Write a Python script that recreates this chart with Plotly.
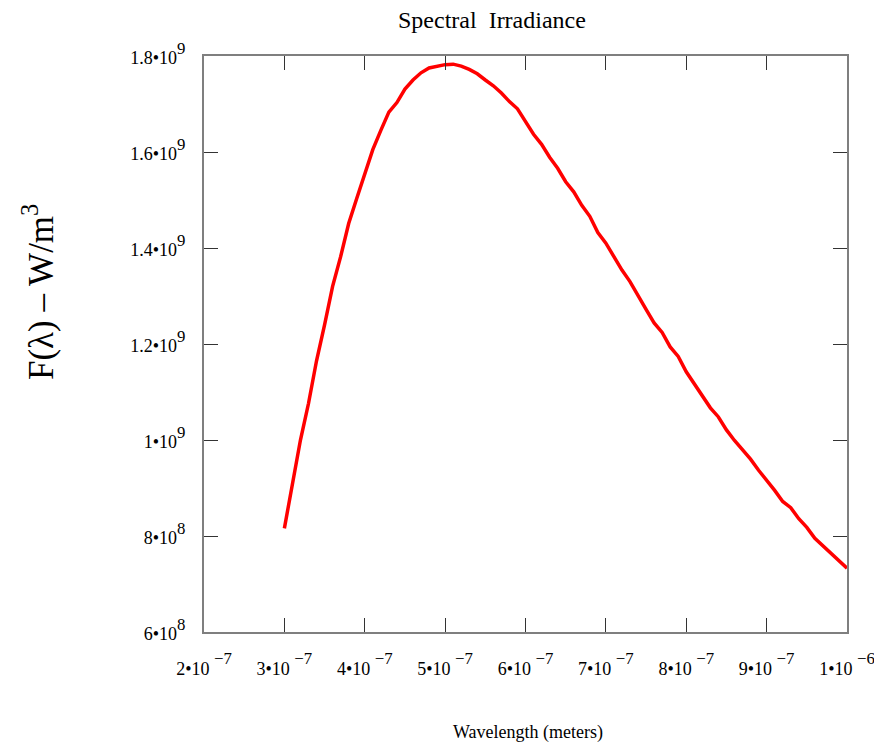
import plotly.graph_objects as go

wavelength_nm = [300, 310, 320, 330, 340, 350, 360, 370, 380, 390,
                 400, 410, 420, 430, 440, 450, 460, 470, 480, 490,
                 500, 510, 520, 530, 540, 550, 560, 570, 580, 590,
                 600, 610, 620, 630, 640, 650, 660, 670, 680, 690,
                 700, 710, 720, 730, 740, 750, 760, 770, 780, 790,
                 800, 810, 820, 830, 840, 850, 860, 870, 880, 890,
                 900, 910, 920, 930, 940, 950, 960, 970, 980, 990, 1000]
irradiance_e9 = [0.816, 0.905, 1.000, 1.076, 1.165, 1.240, 1.320, 1.382, 1.451, 1.503,
                 1.556, 1.605, 1.645, 1.683, 1.703, 1.731, 1.750, 1.765, 1.775, 1.779,
                 1.782, 1.783, 1.779, 1.772, 1.763, 1.750, 1.738, 1.723, 1.705, 1.690,
                 1.665, 1.637, 1.616, 1.589, 1.566, 1.538, 1.517, 1.489, 1.466, 1.432,
                 1.410, 1.381, 1.354, 1.330, 1.300, 1.272, 1.244, 1.224, 1.194, 1.174,
                 1.142, 1.116, 1.090, 1.067, 1.048, 1.021, 0.999, 0.980, 0.960, 0.937,
                 0.917, 0.895, 0.872, 0.859, 0.836, 0.818, 0.795, 0.780, 0.765, 0.749, 0.733]

x_tick_mantissa = ["2", "3", "4", "5", "6", "7", "8", "9", "1"]
x_tick_exponent = ["\u22127", "\u22127", "\u22127", "\u22127", "\u22127", "\u22127", "\u22127", "\u22127", "\u22126"]
x_tickvals = [2e-7, 3e-7, 4e-7, 5e-7, 6e-7, 7e-7, 8e-7, 9e-7, 1e-6]
y_tick_mantissa = ["6", "8", "1", "1.2", "1.4", "1.6", "1.8"]
y_tick_exponent = ["8", "8", "9", "9", "9", "9", "9"]
y_tickvals = [6e8, 8e8, 1e9, 1.2e9, 1.4e9, 1.6e9, 1.8e9]

x_vals = [w * 1e-9 for w in wavelength_nm]
y_vals = [v * 1e9 for v in irradiance_e9]


def sci_label(m, e, gap=""):
    # tick font is large so that <sup> (70%) is ~17px; mantissa shrunk back to ~18px
    return f'<span style="font-size:18px">{m}\u202210{gap}</span><sup>{e}</sup>'


x_ticktext = [sci_label(m, e, " ") for m, e in zip(x_tick_mantissa, x_tick_exponent)]
y_ticktext = [sci_label(m, e) for m, e in zip(y_tick_mantissa, y_tick_exponent)]

font_family = "Liberation Serif, Times New Roman, serif"

fig = go.Figure()
fig.add_trace(go.Scatter(x=x_vals, y=y_vals, mode="lines",
                         line=dict(color="#ff0000", width=3.5), showlegend=False))

axis_common = dict(showgrid=False, zeroline=False, showline=True, linecolor="#7f7f7f",
                   linewidth=1.5, mirror="ticks", ticks="inside", ticklen=14,
                   tickcolor="#333333", tickwidth=1.2, ticklabeloverflow="allow",
                   automargin=False,
                   tickfont=dict(family=font_family, size=24, color="black"))

L, R, T, B = 204, 847, 56, 632
PW, PH = R - L, B - T

fig.update_layout(
    width=874, height=743, autosize=False,
    margin=dict(l=L, r=874 - R, t=T, b=743 - B, autoexpand=False),
    paper_bgcolor="white", plot_bgcolor="white",
    font=dict(family=font_family, color="black"),
    xaxis=dict(range=[2e-7, 1e-6], tickvals=x_tickvals, ticktext=x_ticktext,
               ticklabelstandoff=12, **axis_common),
    yaxis=dict(range=[6e8, 1.8e9], tickvals=y_tickvals, ticktext=y_ticktext,
               ticklabelstandoff=12, **axis_common),
    annotations=[
        dict(text="Spectral  Irradiance", xref="paper", yref="paper",
             x=(492 - L) / PW, y=1 + (T - 20) / PH, xanchor="center", yanchor="middle",
             showarrow=False, font=dict(family=font_family, size=24, color="black")),
        dict(text="Wavelength (meters)", xref="paper", yref="paper",
             x=(528 - L) / PW, y=-(732 - B) / PH, xanchor="center", yanchor="middle",
             showarrow=False, font=dict(family=font_family, size=18, color="black")),
        dict(text="F(\u03bb) \u2013 W/m<sup>3</sup>", xref="paper", yref="paper",
             x=-(L - 38) / PW, y=(B - 292) / PH, xanchor="center", yanchor="middle",
             textangle=-90, showarrow=False,
             font=dict(family=font_family, size=35, color="black")),
    ],
)

fig.write_html("out.html")
